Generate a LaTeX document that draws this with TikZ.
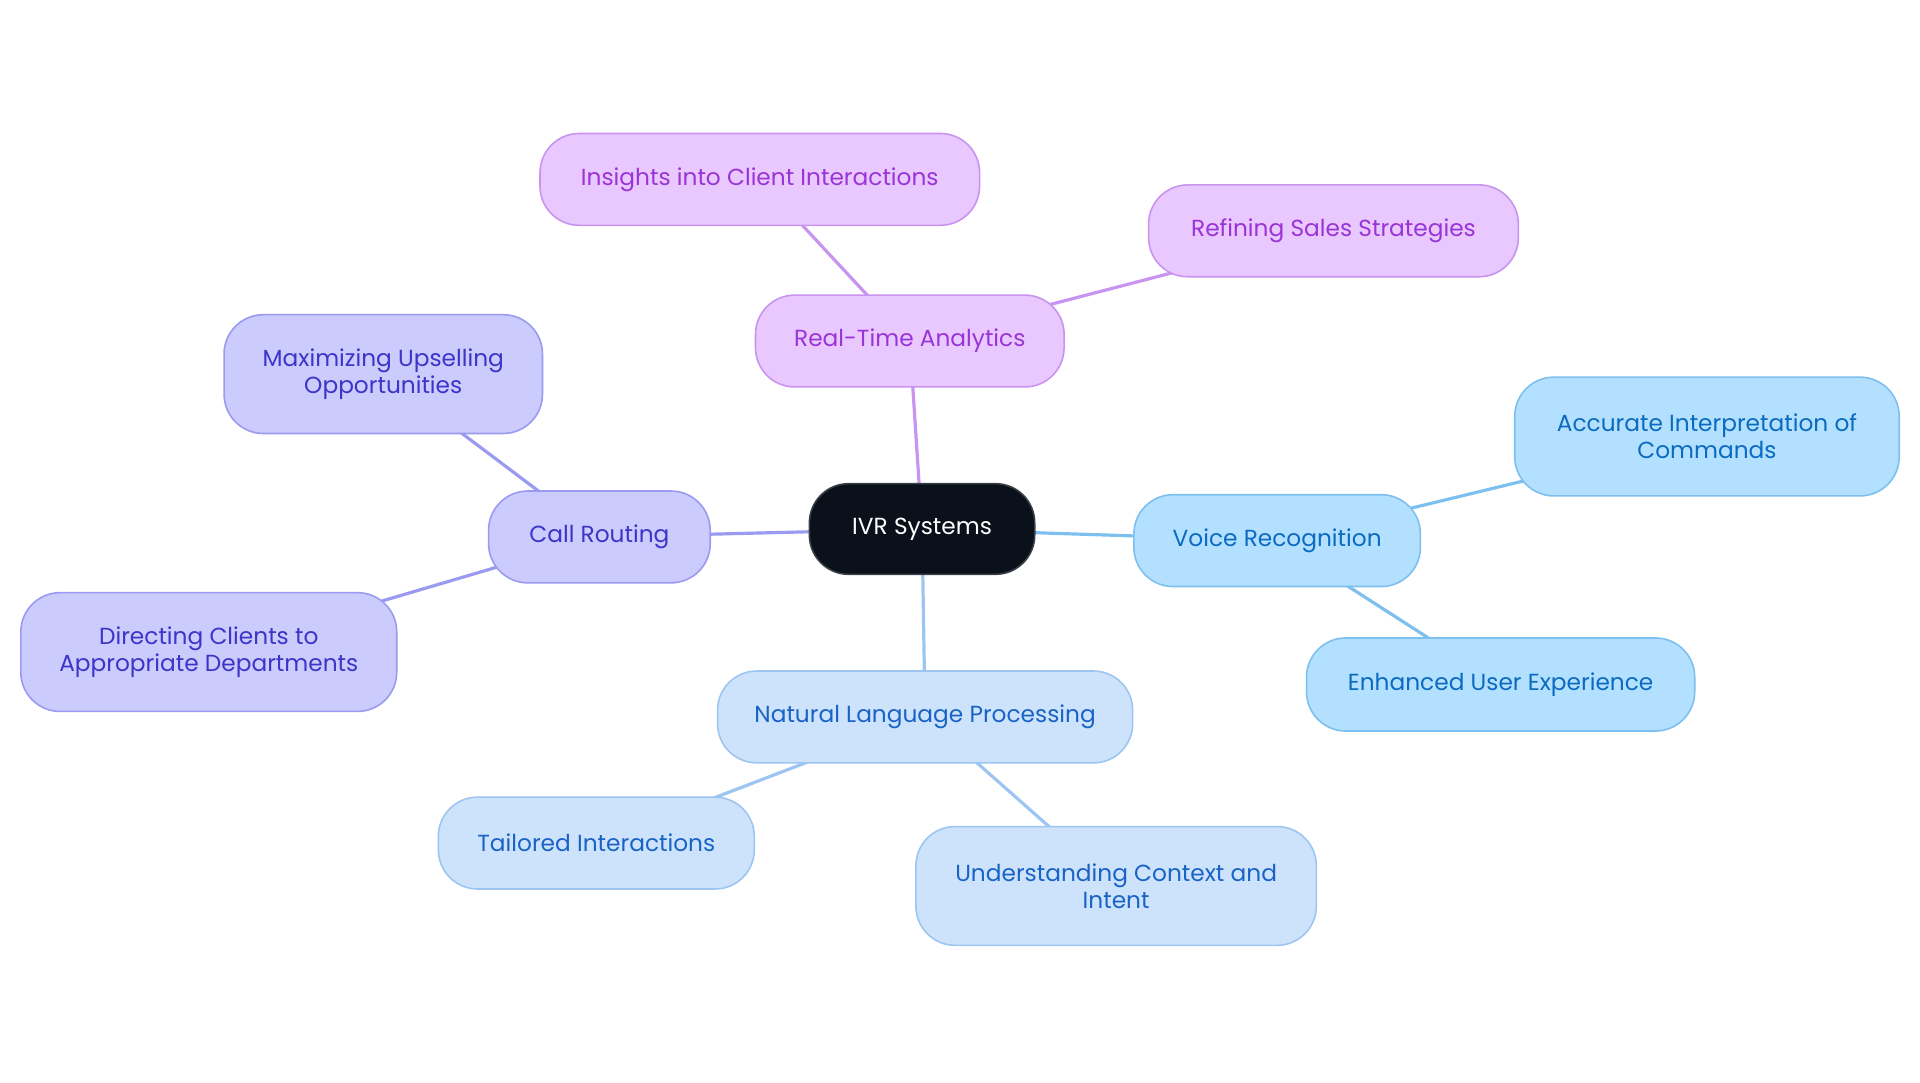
\documentclass[tikz,border=0pt]{standalone}
\usepackage{fontspec}
\setmainfont{Poppins}
\usetikzlibrary{backgrounds}
\definecolor{ivrfill}{HTML}{0B111B}
\definecolor{ivrline}{HTML}{3A3F47}
\definecolor{pufill}{HTML}{E8C8FE}
\definecolor{puline}{HTML}{C994F0}
\definecolor{putext}{HTML}{9A34D6}
\definecolor{infill}{HTML}{CBCBFE}
\definecolor{inline}{HTML}{9A9AF0}
\definecolor{intext}{HTML}{3B35C8}
\definecolor{skfill}{HTML}{B3E0FE}
\definecolor{skline}{HTML}{7DC0EF}
\definecolor{sktext}{HTML}{0B6BC0}
\definecolor{lbfill}{HTML}{CDE3FB}
\definecolor{lbline}{HTML}{9DC5F1}
\definecolor{lbtext}{HTML}{1A63C6}
\tikzset{
  box/.style={rounded corners=32pt, line width=1.3pt, inner sep=0pt, align=center,
    font=\fontsize{19}{22}\selectfont},
  ivrbox/.style={box, fill=ivrfill, draw=ivrline, text=white},
  pubox/.style={box, fill=pufill, draw=puline, text=putext},
  inbox/.style={box, fill=infill, draw=inline, text=intext},
  skbox/.style={box, fill=skfill, draw=skline, text=sktext},
  lbbox/.style={box, fill=lbfill, draw=lbline, text=lbtext},
  edge/.style={line width=2.6pt},
}
\begin{document}
\begin{tikzpicture}[x=1pt,y=-1pt]
\useasboundingbox (0,0) rectangle (1568,884.4);
\node[ivrbox, minimum width=184pt, minimum height=74pt] (ivr) at (753,432) {IVR Systems};
\node[pubox, minimum width=252pt, minimum height=75pt] (rta) at (743,278.5) {Real-Time Analytics};
\node[pubox, minimum width=359pt, minimum height=75pt] (ins) at (620.5,146.5) {Insights into Client Interactions};
\node[pubox, minimum width=302pt, minimum height=75pt] (ref) at (1089,188.5) {Refining Sales Strategies};
\node[inbox, minimum width=181pt, minimum height=75pt] (cr) at (489.5,438.5) {Call Routing};
\node[inbox, minimum width=260pt, minimum height=97pt] (max) at (313,305.5) {Maximizing Upselling\\Opportunities};
\node[inbox, minimum width=307pt, minimum height=97pt] (dir) at (170.5,532.5) {Directing Clients to\\Appropriate Departments};
\node[skbox, minimum width=234pt, minimum height=75pt] (vr) at (1043,441.5) {Voice Recognition};
\node[skbox, minimum width=314pt, minimum height=97pt] (acc) at (1394,356.5) {Accurate Interpretation of\\Commands};
\node[skbox, minimum width=317pt, minimum height=76pt] (enh) at (1225.5,559) {Enhanced User Experience};
\node[lbbox, minimum width=339pt, minimum height=75pt] (nlp) at (755.5,585.5) {Natural Language Processing};
\node[lbbox, minimum width=258pt, minimum height=75pt] (tai) at (487,688.5) {Tailored Interactions};
\node[lbbox, minimum width=327pt, minimum height=97pt] (und) at (911.5,723.5) {Understanding Context and\\Intent};
\begin{scope}[on background layer]
\draw[edge, puline] (ivr.center) -- (rta.center);
\draw[edge, puline] (rta.center) -- (ins.center);
\draw[edge, puline] (rta.center) -- (ref.center);
\draw[edge, inline] (ivr.center) -- (cr.center);
\draw[edge, inline] (cr.center) -- (max.center);
\draw[edge, inline] (cr.center) -- (dir.center);
\draw[edge, skline] (ivr.center) -- (vr.center);
\draw[edge, skline] (vr.center) -- (acc.center);
\draw[edge, skline] (vr.center) -- (enh.center);
\draw[edge, lbline] (ivr.center) -- (nlp.center);
\draw[edge, lbline] (nlp.center) -- (tai.center);
\draw[edge, lbline] (nlp.center) -- (und.center);
\end{scope}
\end{tikzpicture}
\end{document}
